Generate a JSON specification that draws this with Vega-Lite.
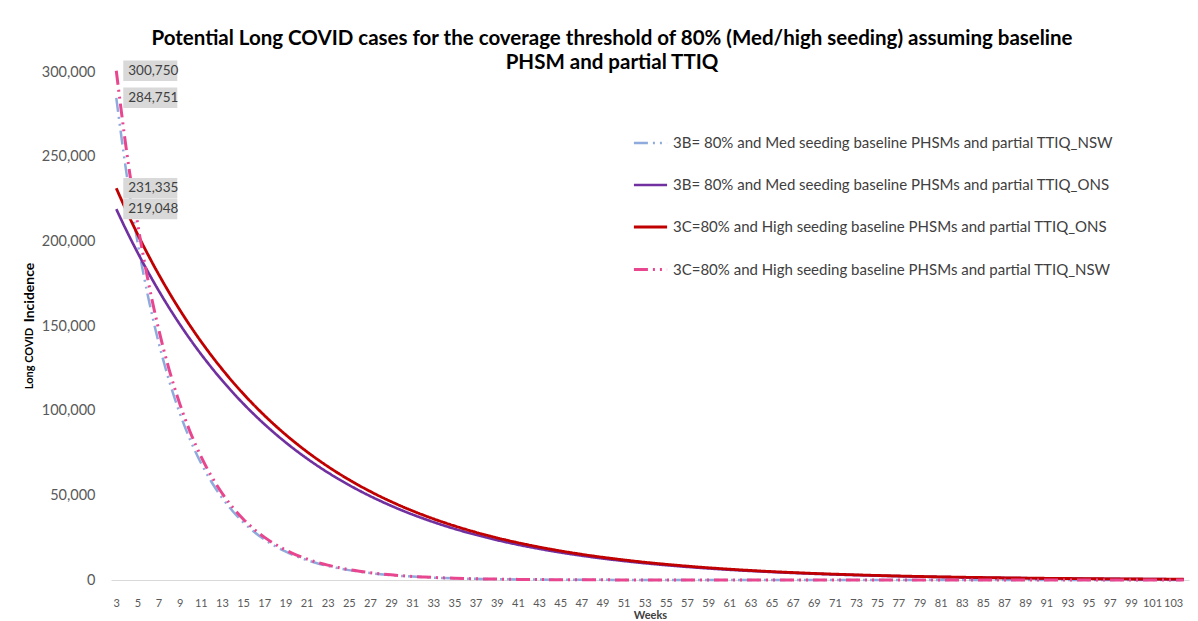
{
"$schema": "https://vega.github.io/schema/vega-lite/v6.json",
"width": 1078, "height": 508,
"autosize": "none",
"padding": {"left": 111, "top": 72, "right": 9, "bottom": 41},
"background": "white",
"title": {"text": ["Potential Long COVID cases for the coverage threshold of 80% (Med/high seeding) assuming baseline", "PHSM and partial TTIQ"], "font": "Lato", "fontSize": 20.5, "fontWeight": "bold", "color": "#000000", "anchor": "middle", "dx": -38, "offset": -13, "lineHeight": 24},
"data": {"values": [
{"w":3,"s":"NB","v":284751},{"w":4,"s":"NB","v":238621},{"w":5,"s":"NB","v":199964},{"w":6,"s":"NB","v":167570},{"w":7,"s":"NB","v":140424},{"w":8,"s":"NB","v":117675},{"w":9,"s":"NB","v":98612},{"w":10,"s":"NB","v":82637},{"w":11,"s":"NB","v":69249},{"w":12,"s":"NB","v":58031},{"w":13,"s":"NB","v":48631},{"w":14,"s":"NB","v":40751},{"w":15,"s":"NB","v":34150},{"w":16,"s":"NB","v":28618},{"w":17,"s":"NB","v":23982},{"w":18,"s":"NB","v":20097},{"w":19,"s":"NB","v":16841},{"w":20,"s":"NB","v":14113},{"w":21,"s":"NB","v":11826},{"w":22,"s":"NB","v":9910},{"w":23,"s":"NB","v":8305},{"w":24,"s":"NB","v":6960},{"w":25,"s":"NB","v":5832},{"w":26,"s":"NB","v":4887},{"w":27,"s":"NB","v":4096},{"w":28,"s":"NB","v":3432},{"w":29,"s":"NB","v":2876},{"w":30,"s":"NB","v":2411},{"w":31,"s":"NB","v":2020},{"w":32,"s":"NB","v":1693},{"w":33,"s":"NB","v":1418},{"w":34,"s":"NB","v":1188},{"w":35,"s":"NB","v":996},{"w":36,"s":"NB","v":835},{"w":37,"s":"NB","v":700},{"w":38,"s":"NB","v":586},{"w":39,"s":"NB","v":491},{"w":40,"s":"NB","v":412},{"w":41,"s":"NB","v":345},{"w":42,"s":"NB","v":289},{"w":43,"s":"NB","v":242},{"w":44,"s":"NB","v":203},{"w":45,"s":"NB","v":170},{"w":46,"s":"NB","v":143},{"w":47,"s":"NB","v":119},{"w":48,"s":"NB","v":100},{"w":49,"s":"NB","v":84},{"w":50,"s":"NB","v":70},{"w":51,"s":"NB","v":59},{"w":52,"s":"NB","v":49},{"w":53,"s":"NB","v":42},{"w":54,"s":"NB","v":35},{"w":55,"s":"NB","v":29},{"w":56,"s":"NB","v":25},{"w":57,"s":"NB","v":21},{"w":58,"s":"NB","v":17},{"w":59,"s":"NB","v":14},{"w":60,"s":"NB","v":12},{"w":61,"s":"NB","v":10},{"w":62,"s":"NB","v":9},{"w":63,"s":"NB","v":8},{"w":64,"s":"NB","v":7},{"w":65,"s":"NB","v":6},{"w":66,"s":"NB","v":5},{"w":67,"s":"NB","v":4},{"w":68,"s":"NB","v":3},{"w":69,"s":"NB","v":3},{"w":70,"s":"NB","v":2},{"w":71,"s":"NB","v":2},{"w":72,"s":"NB","v":2},{"w":73,"s":"NB","v":1},{"w":74,"s":"NB","v":1},{"w":75,"s":"NB","v":1},{"w":76,"s":"NB","v":1},{"w":77,"s":"NB","v":1},{"w":78,"s":"NB","v":1},{"w":79,"s":"NB","v":1},{"w":80,"s":"NB","v":1},{"w":81,"s":"NB","v":1},{"w":82,"s":"NB","v":1},{"w":83,"s":"NB","v":1},{"w":84,"s":"NB","v":1},{"w":85,"s":"NB","v":1},{"w":86,"s":"NB","v":1},{"w":87,"s":"NB","v":1},{"w":88,"s":"NB","v":1},{"w":89,"s":"NB","v":1},{"w":90,"s":"NB","v":1},{"w":91,"s":"NB","v":1},{"w":92,"s":"NB","v":1},{"w":93,"s":"NB","v":1},{"w":94,"s":"NB","v":1},{"w":95,"s":"NB","v":1},{"w":96,"s":"NB","v":1},{"w":97,"s":"NB","v":1},{"w":98,"s":"NB","v":1},{"w":99,"s":"NB","v":1},{"w":100,"s":"NB","v":1},{"w":101,"s":"NB","v":1},{"w":102,"s":"NB","v":1},{"w":103,"s":"NB","v":1},{"w":104,"s":"NB","v":1},
{"w":3,"s":"OB","v":219048},{"w":4,"s":"OB","v":205905},{"w":5,"s":"OB","v":193551},{"w":6,"s":"OB","v":181938},{"w":7,"s":"OB","v":171022},{"w":8,"s":"OB","v":160760},{"w":9,"s":"OB","v":151115},{"w":10,"s":"OB","v":142048},{"w":11,"s":"OB","v":133525},{"w":12,"s":"OB","v":125514},{"w":13,"s":"OB","v":117983},{"w":14,"s":"OB","v":110904},{"w":15,"s":"OB","v":104250},{"w":16,"s":"OB","v":97995},{"w":17,"s":"OB","v":92115},{"w":18,"s":"OB","v":86588},{"w":19,"s":"OB","v":81393},{"w":20,"s":"OB","v":76510},{"w":21,"s":"OB","v":71919},{"w":22,"s":"OB","v":67604},{"w":23,"s":"OB","v":63548},{"w":24,"s":"OB","v":59735},{"w":25,"s":"OB","v":56151},{"w":26,"s":"OB","v":52782},{"w":27,"s":"OB","v":49615},{"w":28,"s":"OB","v":46638},{"w":29,"s":"OB","v":43840},{"w":30,"s":"OB","v":41209},{"w":31,"s":"OB","v":38737},{"w":32,"s":"OB","v":36413},{"w":33,"s":"OB","v":34228},{"w":34,"s":"OB","v":32174},{"w":35,"s":"OB","v":30244},{"w":36,"s":"OB","v":28429},{"w":37,"s":"OB","v":26723},{"w":38,"s":"OB","v":25120},{"w":39,"s":"OB","v":23613},{"w":40,"s":"OB","v":22196},{"w":41,"s":"OB","v":20864},{"w":42,"s":"OB","v":19612},{"w":43,"s":"OB","v":18435},{"w":44,"s":"OB","v":17329},{"w":45,"s":"OB","v":16289},{"w":46,"s":"OB","v":15312},{"w":47,"s":"OB","v":14393},{"w":48,"s":"OB","v":13530},{"w":49,"s":"OB","v":12718},{"w":50,"s":"OB","v":11955},{"w":51,"s":"OB","v":11238},{"w":52,"s":"OB","v":10563},{"w":53,"s":"OB","v":9930},{"w":54,"s":"OB","v":9334},{"w":55,"s":"OB","v":8774},{"w":56,"s":"OB","v":8247},{"w":57,"s":"OB","v":7752},{"w":58,"s":"OB","v":7287},{"w":59,"s":"OB","v":6850},{"w":60,"s":"OB","v":6439},{"w":61,"s":"OB","v":6053},{"w":62,"s":"OB","v":5690},{"w":63,"s":"OB","v":5348},{"w":64,"s":"OB","v":5027},{"w":65,"s":"OB","v":4726},{"w":66,"s":"OB","v":4442},{"w":67,"s":"OB","v":4176},{"w":68,"s":"OB","v":3925},{"w":69,"s":"OB","v":3690},{"w":70,"s":"OB","v":3468},{"w":71,"s":"OB","v":3260},{"w":72,"s":"OB","v":3064},{"w":73,"s":"OB","v":2880},{"w":74,"s":"OB","v":2708},{"w":75,"s":"OB","v":2545},{"w":76,"s":"OB","v":2393},{"w":77,"s":"OB","v":2249},{"w":78,"s":"OB","v":2114},{"w":79,"s":"OB","v":1988},{"w":80,"s":"OB","v":1868},{"w":81,"s":"OB","v":1756},{"w":82,"s":"OB","v":1650},{"w":83,"s":"OB","v":1552},{"w":84,"s":"OB","v":1458},{"w":85,"s":"OB","v":1371},{"w":86,"s":"OB","v":1289},{"w":87,"s":"OB","v":1211},{"w":88,"s":"OB","v":1139},{"w":89,"s":"OB","v":1071},{"w":90,"s":"OB","v":1007},{"w":91,"s":"OB","v":946},{"w":92,"s":"OB","v":889},{"w":93,"s":"OB","v":836},{"w":94,"s":"OB","v":786},{"w":95,"s":"OB","v":739},{"w":96,"s":"OB","v":694},{"w":97,"s":"OB","v":652},{"w":98,"s":"OB","v":614},{"w":99,"s":"OB","v":577},{"w":100,"s":"OB","v":542},{"w":101,"s":"OB","v":509},{"w":102,"s":"OB","v":479},{"w":103,"s":"OB","v":450},{"w":104,"s":"OB","v":423},
{"w":3,"s":"OC","v":231335},{"w":4,"s":"OC","v":217455},{"w":5,"s":"OC","v":204408},{"w":6,"s":"OC","v":192144},{"w":7,"s":"OC","v":180615},{"w":8,"s":"OC","v":169778},{"w":9,"s":"OC","v":159591},{"w":10,"s":"OC","v":150016},{"w":11,"s":"OC","v":141015},{"w":12,"s":"OC","v":132554},{"w":13,"s":"OC","v":124601},{"w":14,"s":"OC","v":117125},{"w":15,"s":"OC","v":110097},{"w":16,"s":"OC","v":103491},{"w":17,"s":"OC","v":97282},{"w":18,"s":"OC","v":91445},{"w":19,"s":"OC","v":85959},{"w":20,"s":"OC","v":80801},{"w":21,"s":"OC","v":75953},{"w":22,"s":"OC","v":71396},{"w":23,"s":"OC","v":67112},{"w":24,"s":"OC","v":63085},{"w":25,"s":"OC","v":59300},{"w":26,"s":"OC","v":55742},{"w":27,"s":"OC","v":52397},{"w":28,"s":"OC","v":49254},{"w":29,"s":"OC","v":46299},{"w":30,"s":"OC","v":43521},{"w":31,"s":"OC","v":40909},{"w":32,"s":"OC","v":38455},{"w":33,"s":"OC","v":36148},{"w":34,"s":"OC","v":33979},{"w":35,"s":"OC","v":31940},{"w":36,"s":"OC","v":30024},{"w":37,"s":"OC","v":28222},{"w":38,"s":"OC","v":26529},{"w":39,"s":"OC","v":24937},{"w":40,"s":"OC","v":23441},{"w":41,"s":"OC","v":22034},{"w":42,"s":"OC","v":20712},{"w":43,"s":"OC","v":19470},{"w":44,"s":"OC","v":18301},{"w":45,"s":"OC","v":17203},{"w":46,"s":"OC","v":16171},{"w":47,"s":"OC","v":15201},{"w":48,"s":"OC","v":14289},{"w":49,"s":"OC","v":13432},{"w":50,"s":"OC","v":12626},{"w":51,"s":"OC","v":11868},{"w":52,"s":"OC","v":11156},{"w":53,"s":"OC","v":10487},{"w":54,"s":"OC","v":9857},{"w":55,"s":"OC","v":9266},{"w":56,"s":"OC","v":8710},{"w":57,"s":"OC","v":8187},{"w":58,"s":"OC","v":7696},{"w":59,"s":"OC","v":7234},{"w":60,"s":"OC","v":6800},{"w":61,"s":"OC","v":6392},{"w":62,"s":"OC","v":6009},{"w":63,"s":"OC","v":5648},{"w":64,"s":"OC","v":5309},{"w":65,"s":"OC","v":4991},{"w":66,"s":"OC","v":4691},{"w":67,"s":"OC","v":4410},{"w":68,"s":"OC","v":4145},{"w":69,"s":"OC","v":3897},{"w":70,"s":"OC","v":3663},{"w":71,"s":"OC","v":3443},{"w":72,"s":"OC","v":3236},{"w":73,"s":"OC","v":3042},{"w":74,"s":"OC","v":2860},{"w":75,"s":"OC","v":2688},{"w":76,"s":"OC","v":2527},{"w":77,"s":"OC","v":2375},{"w":78,"s":"OC","v":2233},{"w":79,"s":"OC","v":2099},{"w":80,"s":"OC","v":1973},{"w":81,"s":"OC","v":1854},{"w":82,"s":"OC","v":1743},{"w":83,"s":"OC","v":1639},{"w":84,"s":"OC","v":1540},{"w":85,"s":"OC","v":1448},{"w":86,"s":"OC","v":1361},{"w":87,"s":"OC","v":1279},{"w":88,"s":"OC","v":1203},{"w":89,"s":"OC","v":1131},{"w":90,"s":"OC","v":1063},{"w":91,"s":"OC","v":999},{"w":92,"s":"OC","v":939},{"w":93,"s":"OC","v":883},{"w":94,"s":"OC","v":830},{"w":95,"s":"OC","v":780},{"w":96,"s":"OC","v":733},{"w":97,"s":"OC","v":689},{"w":98,"s":"OC","v":648},{"w":99,"s":"OC","v":609},{"w":100,"s":"OC","v":572},{"w":101,"s":"OC","v":538},{"w":102,"s":"OC","v":506},{"w":103,"s":"OC","v":475},{"w":104,"s":"OC","v":447},
{"w":3,"s":"NC","v":300750},{"w":4,"s":"NC","v":252029},{"w":5,"s":"NC","v":211200},{"w":6,"s":"NC","v":176985},{"w":7,"s":"NC","v":148314},{"w":8,"s":"NC","v":124287},{"w":9,"s":"NC","v":104153},{"w":10,"s":"NC","v":87280},{"w":11,"s":"NC","v":73140},{"w":12,"s":"NC","v":61292},{"w":13,"s":"NC","v":51363},{"w":14,"s":"NC","v":43041},{"w":15,"s":"NC","v":36069},{"w":16,"s":"NC","v":30226},{"w":17,"s":"NC","v":25329},{"w":18,"s":"NC","v":21226},{"w":19,"s":"NC","v":17787},{"w":20,"s":"NC","v":14906},{"w":21,"s":"NC","v":12491},{"w":22,"s":"NC","v":10467},{"w":23,"s":"NC","v":8772},{"w":24,"s":"NC","v":7351},{"w":25,"s":"NC","v":6160},{"w":26,"s":"NC","v":5162},{"w":27,"s":"NC","v":4326},{"w":28,"s":"NC","v":3625},{"w":29,"s":"NC","v":3038},{"w":30,"s":"NC","v":2546},{"w":31,"s":"NC","v":2133},{"w":32,"s":"NC","v":1788},{"w":33,"s":"NC","v":1498},{"w":34,"s":"NC","v":1255},{"w":35,"s":"NC","v":1052},{"w":36,"s":"NC","v":882},{"w":37,"s":"NC","v":739},{"w":38,"s":"NC","v":619},{"w":39,"s":"NC","v":519},{"w":40,"s":"NC","v":435},{"w":41,"s":"NC","v":364},{"w":42,"s":"NC","v":305},{"w":43,"s":"NC","v":256},{"w":44,"s":"NC","v":214},{"w":45,"s":"NC","v":180},{"w":46,"s":"NC","v":151},{"w":47,"s":"NC","v":126},{"w":48,"s":"NC","v":106},{"w":49,"s":"NC","v":89},{"w":50,"s":"NC","v":74},{"w":51,"s":"NC","v":62},{"w":52,"s":"NC","v":52},{"w":53,"s":"NC","v":44},{"w":54,"s":"NC","v":37},{"w":55,"s":"NC","v":31},{"w":56,"s":"NC","v":26},{"w":57,"s":"NC","v":22},{"w":58,"s":"NC","v":18},{"w":59,"s":"NC","v":15},{"w":60,"s":"NC","v":13},{"w":61,"s":"NC","v":11},{"w":62,"s":"NC","v":9},{"w":63,"s":"NC","v":8},{"w":64,"s":"NC","v":7},{"w":65,"s":"NC","v":6},{"w":66,"s":"NC","v":5},{"w":67,"s":"NC","v":4},{"w":68,"s":"NC","v":3},{"w":69,"s":"NC","v":3},{"w":70,"s":"NC","v":2},{"w":71,"s":"NC","v":2},{"w":72,"s":"NC","v":2},{"w":73,"s":"NC","v":1},{"w":74,"s":"NC","v":1},{"w":75,"s":"NC","v":1},{"w":76,"s":"NC","v":1},{"w":77,"s":"NC","v":1},{"w":78,"s":"NC","v":1},{"w":79,"s":"NC","v":1},{"w":80,"s":"NC","v":1},{"w":81,"s":"NC","v":1},{"w":82,"s":"NC","v":1},{"w":83,"s":"NC","v":1},{"w":84,"s":"NC","v":1},{"w":85,"s":"NC","v":1},{"w":86,"s":"NC","v":1},{"w":87,"s":"NC","v":1},{"w":88,"s":"NC","v":1},{"w":89,"s":"NC","v":1},{"w":90,"s":"NC","v":1},{"w":91,"s":"NC","v":1},{"w":92,"s":"NC","v":1},{"w":93,"s":"NC","v":1},{"w":94,"s":"NC","v":1},{"w":95,"s":"NC","v":1},{"w":96,"s":"NC","v":1},{"w":97,"s":"NC","v":1},{"w":98,"s":"NC","v":1},{"w":99,"s":"NC","v":1},{"w":100,"s":"NC","v":1},{"w":101,"s":"NC","v":1},{"w":102,"s":"NC","v":1},{"w":103,"s":"NC","v":1},{"w":104,"s":"NC","v":1}
]},
"encoding": {
  "x": {"field": "w", "type": "quantitative",
    "scale": {"domain": [2.5, 104.5], "nice": false, "zero": false},
    "axis": {"values": [3,5,7,9,11,13,15,17,19,21,23,25,27,29,31,33,35,37,39,41,43,45,47,49,51,53,55,57,59,61,63,65,67,69,71,73,75,77,79,81,83,85,87,89,91,93,95,97,99,101,103],
      "format": "d", "labelOverlap": false, "labelFont": "Lato", "labelFontSize": 11, "labelColor": "#595959", "labelPadding": 17,
      "ticks": false, "grid": false, "domainColor": "#d9d9d9", "domainWidth": 1,
      "title": "Weeks", "titleFont": "Lato", "titleFontSize": 11, "titleFontWeight": "bold", "titleColor": "#404040", "titlePadding": 1}}
},
"layer": [
  {
    "mark": {"type": "line", "strokeCap": "butt", "interpolate": "monotone"},
    "encoding": {
      "y": {"field": "v", "type": "quantitative",
        "scale": {"domain": [0, 300000], "nice": false},
        "axis": {"orient": "left", "values": [0,50000,100000,150000,200000,250000,300000], "format": ",.0f",
          "labelFont": "Lato", "labelFontSize": 14.5, "labelColor": "#595959", "labelPadding": 16,
          "ticks": false, "domain": false, "grid": false,
          "title": "Incidence", "titleFont": "Lato", "titleFontSize": 14, "titleFontWeight": "bold", "titleColor": "#000000",
          "titleX": -82, "titleY": 220, "titleAngle": -90, "titleAlign": "center", "titleBaseline": "middle"}},
      "color": {"field": "s", "type": "nominal",
        "scale": {"domain": ["NB","OB","OC","NC"], "range": ["#8faadc","#7030a0","#c00000","#e8468f"]},
        "legend": {"orient": "none", "legendX": 521, "legendY": 53, "title": null, "padding": 0,
          "symbolType": "stroke", "symbolSize": 1100, "rowPadding": 16, "labelOffset": 4,
          "labelFont": "Lato", "labelFontSize": 15, "labelColor": "#404040", "labelLimit": 700,
          "labelExpr": "({'NB':'3B= 80% and Med seeding baseline PHSMs and partial TTIQ_NSW','OB':'3B= 80% and Med seeding baseline PHSMs and partial TTIQ_ONS','OC':'3C=80% and High seeding baseline PHSMs and partial TTIQ_ONS','NC':'3C=80% and High seeding baseline PHSMs and partial TTIQ_NSW'})[datum.label]"}},
      "strokeDash": {"field": "s", "type": "nominal",
        "scale": {"domain": ["NB","OB","OC","NC"], "range": [[14,5,2,5,2,5],[1,0],[1,0],[14,5,2,5,2,5]]}},
      "strokeWidth": {"field": "s", "type": "nominal",
        "scale": {"domain": ["NB","OB","OC","NC"], "range": [2.5,3,3,2.5]}}
    }
  },
  {
    "transform": [{"filter": "datum.w == 3"}],
    "mark": {"type": "point", "shape": "M-1,-0.38L1,-0.38L1,0.38L-1,0.38Z", "filled": true, "color": "#d9d9d9", "opacity": 1, "size": 2916, "xOffset": 34},
    "encoding": {
      "y": {"field": "v", "type": "quantitative",
        "axis": {"orient": "left", "labels": false, "ticks": false, "domain": false, "grid": false,
          "title": "Long COVID", "titleFont": "Lato", "titleFontSize": 11, "titleFontWeight": "bold", "titleColor": "#000000",
          "titleX": -82, "titleY": 286, "titleAngle": -90, "titleAlign": "center", "titleBaseline": "middle"}}
    }
  },
  {
    "transform": [{"filter": "datum.w == 3"}],
    "mark": {"type": "text", "align": "left", "baseline": "middle", "dx": 12, "font": "Lato", "fontSize": 13.5, "color": "#404040"},
    "encoding": {
      "y": {"field": "v", "type": "quantitative", "axis": null},
      "text": {"field": "v", "type": "quantitative", "format": ","}
    }
  }
],
"resolve": {"axis": {"y": "independent"}},
"config": {"view": {"stroke": null}}
}
